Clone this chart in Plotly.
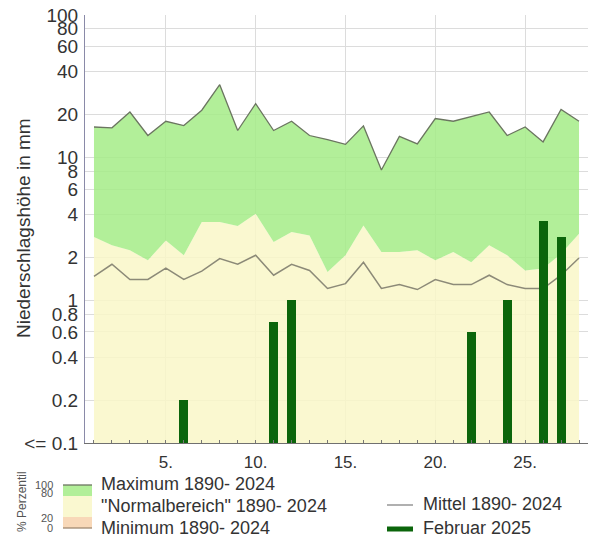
import plotly.graph_objects as go

# Daily precipitation, February (mm)
days = list(range(1, 29))
maximum_1890_2024 = [16.4, 16.2, 20.9, 14.3, 18.0, 16.8, 21.5, 32.5, 15.5, 23.9,
                     15.5, 18.0, 14.3, 13.4, 12.4, 16.7, 8.2, 14.1, 12.5, 18.8,
                     18.0, 19.3, 20.9, 14.3, 16.4, 12.9, 21.8, 18.0]
perc80_1890_2024 = [2.78, 2.43, 2.24, 1.91, 2.63, 2.07, 3.54, 3.54, 3.32, 4.05,
                    2.56, 3.01, 2.85, 1.58, 2.07, 3.35, 2.18, 2.18, 2.24, 1.91,
                    2.18, 1.85, 2.43, 2.07, 1.62, 1.67, 2.12, 2.93]
mean_1890_2024 = [1.47, 1.79, 1.40, 1.40, 1.68, 1.40, 1.60, 1.96, 1.79, 2.07,
                  1.50, 1.79, 1.62, 1.21, 1.31, 1.85, 1.21, 1.29, 1.19, 1.40,
                  1.29, 1.29, 1.50, 1.29, 1.21, 1.21, 1.50, 1.98]
# minimum and 20th percentile are at or below 0.1 mm on every day
floor_1890_2024 = [0.1] * 28
februar_2025 = [None, None, None, None, None, 0.2, None, None, None, None,
                0.7, 1.0, None, None, None, None, None, None, None, None,
                None, 0.6, None, 1.0, None, 3.6, 2.8, None]

y_tickvals = [0.1, 0.2, 0.4, 0.6, 0.8, 1, 2, 4, 6, 8, 10, 20, 40, 60, 80, 100]
y_ticktext = ["<= 0.1", "0.2", "0.4", "0.6", "0.8", "1", "2", "4", "6", "8",
              "10", "20", "40", "60", "80", "100"]
x_tickvals = [5, 10, 15, 20, 25]
x_ticktext = ["5.", "10.", "15.", "20.", "25."]

GREEN = "rgba(165,236,135,0.85)"
YELLOW = "rgba(249,247,200,0.85)"
ORANGE = "#f8d8b8"
MAXLINE = "#6b7560"
MEANLINE = "#8c8a78"
BAR = "#0b650b"
FONT = "Liberation Sans, Arial, sans-serif"
TXT = "#333333"

W, H = 592, 540
L, R, T, B = 85, 4, 15, 97
PW, PH = W - L - R, H - T - B


def px(x):
    return (x - L) / PW


def py(y):
    return (H - B - y) / PH


fig = go.Figure()

fig.add_trace(go.Scatter(x=days, y=floor_1890_2024, mode="lines",
                         line=dict(width=0), hoverinfo="skip", showlegend=False))
fig.add_trace(go.Scatter(x=days, y=perc80_1890_2024, mode="lines",
                         line=dict(width=0), fill="tonexty", fillcolor=YELLOW,
                         name='"Normalbereich" 1890- 2024', showlegend=False))
fig.add_trace(go.Scatter(x=days, y=maximum_1890_2024, mode="lines",
                         line=dict(width=1.3, color=MAXLINE), fill="tonexty",
                         fillcolor=GREEN, name="Maximum 1890- 2024",
                         showlegend=False))
fig.add_trace(go.Scatter(x=days, y=mean_1890_2024, mode="lines",
                         line=dict(width=1.5, color=MEANLINE),
                         name="Mittel 1890- 2024", showlegend=False))
# bars live on an overlaid twin axis so they are drawn above the filled bands
fig.add_trace(go.Bar(x=days, y=februar_2025, width=0.5, marker_color=BAR,
                     marker_line_width=0, name="Februar 2025", showlegend=False,
                     yaxis="y2"))

shapes = []
annotations = []

# percentile key
sx0, sx1 = px(63), px(92)
shapes += [
    dict(type="rect", xref="paper", yref="paper", x0=sx0, x1=sx1,
         y0=py(496), y1=py(485), fillcolor=GREEN, line_width=0),
    dict(type="rect", xref="paper", yref="paper", x0=sx0, x1=sx1,
         y0=py(517), y1=py(496), fillcolor=YELLOW, line_width=0),
    dict(type="rect", xref="paper", yref="paper", x0=sx0, x1=sx1,
         y0=py(528), y1=py(517), fillcolor=ORANGE, line_width=0),
    dict(type="line", xref="paper", yref="paper", x0=sx0, x1=sx1,
         y0=py(485), y1=py(485), line=dict(color=MAXLINE, width=1.3)),
    dict(type="line", xref="paper", yref="paper", x0=sx0, x1=sx1,
         y0=py(528), y1=py(528), line=dict(color="#a08870", width=1.3)),
    dict(type="line", xref="paper", yref="paper", x0=px(387), x1=px(413),
         y0=py(505), y1=py(505), line=dict(color="#b0b0b0", width=2)),
    dict(type="line", xref="paper", yref="paper", x0=px(387), x1=px(413),
         y0=py(529), y1=py(529), line=dict(color=BAR, width=5)),
]
for lbl, yy in [("100", 485), ("80", 493), ("20", 518), ("0", 528)]:
    annotations.append(dict(text=lbl, x=px(55), y=py(yy), xref="paper",
                            yref="paper", xanchor="right", yanchor="middle",
                            showarrow=False, font=dict(family=FONT, size=11,
                                                       color="#555555")))
annotations.append(dict(text="% Perzentil", x=px(22), y=py(502), xref="paper",
                        yref="paper", textangle=-90, xanchor="center",
                        yanchor="middle", showarrow=False,
                        font=dict(family=FONT, size=12, color="#555555")))
for lbl, xx, yy in [("Maximum 1890- 2024", 99, 484),
                    ('"Normalbereich" 1890- 2024', 99, 506),
                    ("Minimum 1890- 2024", 99, 528),
                    ("Mittel 1890- 2024", 421, 504),
                    ("Februar 2025", 421, 528)]:
    annotations.append(dict(text=lbl, x=px(xx), y=py(yy), xref="paper",
                            yref="paper", xanchor="left", yanchor="middle",
                            showarrow=False,
                            font=dict(family=FONT, size=18, color=TXT)))

# y-axis title
annotations.append(dict(text="Niederschlagshöhe in mm", x=px(23), y=py(228),
                        xref="paper", yref="paper", textangle=-90,
                        xanchor="center", yanchor="middle", showarrow=False,
                        font=dict(family=FONT, size=19, color=TXT)))

fig.update_layout(
    width=W, height=H,
    margin=dict(l=L, r=R, t=T, b=B, pad=0),
    plot_bgcolor="white", paper_bgcolor="white",
    bargap=0, showlegend=False,
    shapes=shapes, annotations=annotations,
    font=dict(family=FONT, color=TXT),
    yaxis2=dict(type="log", range=[-1, 2], overlaying="y", visible=False,
                showgrid=False, zeroline=False),
)
fig.update_xaxes(
    range=[0.5, 28.5], tickmode="array", tickvals=x_tickvals,
    ticktext=x_ticktext, tickfont=dict(size=17, color=TXT),
    showgrid=True, gridcolor="#dcdcdc", gridwidth=1,
    showline=True, linecolor="#707070", linewidth=1,
    ticks="", ticklabelstandoff=4, zeroline=False,
    minor=dict(tickmode="linear", tick0=1, dtick=1, ticks="inside",
               ticklen=3, tickcolor="#777777", showgrid=False),
)
fig.update_yaxes(
    selector=dict(overlaying=None),
    type="log", range=[-1, 2], tickmode="array", tickvals=y_tickvals,
    ticktext=y_ticktext, tickfont=dict(size=19, color=TXT),
    showgrid=True, gridcolor="#dcdcdc", gridwidth=1,
    showline=True, linecolor="#8a8aa8", linewidth=1.2,
    ticks="", ticklabelstandoff=2, zeroline=False,
)

fig.write_html("out.html")
